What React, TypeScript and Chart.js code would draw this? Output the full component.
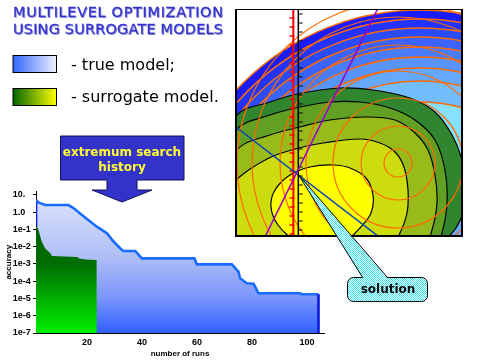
import React, { useEffect, useRef } from "react";
import { Chart, registerables } from "chart.js";
Chart.register(...registerables);

// ---------- history chart data ----------
const trueRuns = [1.5, 1.5, 2.5, 4.8, 13.3, 15.0, 19.0, 23.5, 27.3, 29.7, 32.7, 33.5, 37.6, 40.0, 59.1, 60.0, 72.7, 75.1, 75.7, 78.1, 80.6, 82.4, 97.6, 98.0, 104.2, 104.2];
const trueAcc = [1e-7, 5.1, 3.6, 2.6, 2.6, 1.8, 0.55, 0.15, 0.06, 0.02, 0.0065, 0.0056, 0.0056, 0.0021, 0.0021, 0.00095, 0.00095, 0.00036, 0.00015, 7.6e-5, 7.1e-5, 2.0e-5, 2.0e-5, 1.75e-5, 1.75e-5, 1e-7];
const surrRuns = [1.5, 1.5, 2.4, 3.6, 4.8, 6.7, 7.3, 16.5, 17.2, 19.5, 23.6, 23.6];
const surrAcc = [1e-7, 0.18, 0.093, 0.0195, 0.0081, 0.0042, 0.0029, 0.0025, 0.0021, 0.0018, 0.0017, 1e-7];
const yTicks = [10, 1, 1e-1, 1e-2, 1e-3, 1e-4, 1e-5, 1e-6, 1e-7];
const yTickLabels = ["10.", "1.0", "1e-1", "1e-2", "1e-3", "1e-4", "1e-5", "1e-6", "1e-7"];
const yRange = [1e-7, 15.85];
const xTicks = [20, 40, 60, 80, 100];

// ---------- contour picture data (picture units) ----------
const bandCenter = [183, 251];
const bandRadii = [251, 242, 233, 224, 214, 204, 193, 180, 159, 60];
const bandColors = ["#1a1aff", "#2233ff", "#2b4bff", "#3a63ff", "#4a7cff", "#5894ff", "#64a8ff", "#72bdff", "#86e0ff", "#66aaff"];
const ringCenter = [161, 153];
const ringRadii = [14, 37, 65, 92, 118, 146, 161];
const contourOuter = [[-37, 170], [0, 105], [33, 92], [60, 84], [103, 78], [136, 80], [173, 88], [198, 102], [215, 125], [225, 150], [229, 175], [227, 200], [219, 218], [209, 230], [188, 270], [93, 305], [-17, 262], [-37, 170]];
const contour2 = [[-22, 160], [0, 119], [33, 105], [63, 97], [93, 92], [123, 92], [153, 98], [178, 110], [198, 130], [208, 160], [210, 193], [205, 223], [193, 255], [100, 292], [-7, 250], [-22, 160]];
const contour3 = [[-17, 190], [0, 140], [33, 125], [63, 117], [93, 110], [129, 107], [158, 110], [178, 123], [191, 140], [198, 165], [200, 193], [195, 220], [183, 250], [100, 285], [-12, 245], [-17, 190]];
const contour4 = [[-25, 200], [-1, 170], [32, 148], [62, 138], [86, 133], [123, 129], [143, 133], [158, 142], [167, 157], [171, 180], [170, 203], [163, 223], [148, 250], [80, 275], [-15, 255], [-25, 200]];
const contourInner = [[85, 238], [58, 230], [41, 215], [34, 197], [38, 180], [53, 165], [73, 157], [96, 155], [113, 158], [129, 168], [136, 185], [134, 203], [123, 218], [108, 231], [85, 238]];
const contourColors = ["#2f862f", "#62a024", "#98ba1a", "#cddc0e", "#ffff00"];
const redRuler = [[56.3, -3], [56.3, 230]];
const blackRuler = [[61.3, -3], [61.3, 230]];
const rulerTicks = [4, 13, 22, 31, 40, 49, 58, 67, 76, 85, 94, 103, 112, 121, 130, 139, 148, 157, 166, 175, 184, 193, 202, 211, 220];
const purpleLine = [[24, 235], [144, -8]];
const blueLine = [[-5, 114], [150, 233]];

const pts = (a: number[][]) => a.map(([x, y]) => ({ x, y }));
const lg = (v: number) => Math.log10(v);
const tickFont = { family: "Liberation Sans", size: 9, weight: "bold" as const };
const titleFont = { family: "Liberation Sans", size: 8, weight: "bold" as const };

function blueGrad(c: any) {
  const chart = c.chart;
  const a = chart.chartArea;
  if (!a) return "rgba(0,0,0,0)";
  const g = chart.ctx.createLinearGradient(0, a.top, 0, a.bottom);
  g.addColorStop(0, "#e0e6f9");
  g.addColorStop(0.45, "#b0c0f6");
  g.addColorStop(0.75, "#7b96fc");
  g.addColorStop(1, "#3060ff");
  return g;
}
function greenGrad(c: any) {
  const chart = c.chart;
  const a = chart.chartArea;
  if (!a || !chart.scales.y) return "rgba(0,0,0,0)";
  const top = chart.scales.y.getPixelForValue(lg(0.1));
  const g = chart.ctx.createLinearGradient(0, top, 0, a.bottom);
  g.addColorStop(0, "#006000");
  g.addColorStop(0.35, "#007000");
  g.addColorStop(1, "#00f000");
  return g;
}

function labelFor(e: number) {
  let best = 0;
  for (let i = 1; i < yTicks.length; i++) {
    if (Math.abs(lg(yTicks[i]) - e) < Math.abs(lg(yTicks[best]) - e)) best = i;
  }
  return yTickLabels[best];
}

function mainConfig(): any {
  return {
    type: "line",
    data: {
      datasets: [
        {
          label: "surrogate model",
          data: surrRuns.map((x, i) => ({ x, y: lg(surrAcc[i]) })),
          borderWidth: 0,
          borderColor: "rgba(0,0,0,0)",
          pointRadius: 0,
          fill: "start",
          backgroundColor: greenGrad,
          order: 0,
        },
        {
          label: "true model",
          data: trueRuns.map((x, i) => ({ x, y: lg(trueAcc[i]) })),
          borderColor: "#1a6cff",
          borderWidth: 2.6,
          pointRadius: 0,
          fill: "start",
          backgroundColor: blueGrad,
          order: 1,
          segment: {
            borderColor: (ctx: any) => (ctx.p0.parsed.x === ctx.p1.parsed.x ? "#0a1ae0" : undefined),
          },
        },
      ],
    },
    options: {
      responsive: false,
      animation: false,
      events: [],
      layout: { autoPadding: false, padding: { left: 12.7, top: 5.5, right: 6, bottom: 0 } },
      plugins: { legend: { display: false }, tooltip: { enabled: false } },
      scales: {
        x: {
          type: "linear",
          min: 1.5,
          max: 106.2,
          afterBuildTicks: (s: any) => {
            s.ticks = xTicks.map((v) => ({ value: v }));
          },
          afterFit: (s: any) => {
            s.height = 27;
          },
          ticks: { font: tickFont, color: "#000", padding: 4, maxRotation: 0, autoSkip: false },
          grid: { display: false, drawTicks: false },
          border: { display: true, color: "#000", width: 1 },
          title: { display: true, text: "number of runs", font: titleFont, color: "#000", padding: { top: 0, bottom: 1 } },
        },
        y: {
          type: "linear",
          min: lg(yRange[0]),
          max: lg(yRange[1]),
          afterBuildTicks: (s: any) => {
            s.ticks = yTicks.map((v) => ({ value: lg(v) }));
          },
          afterFit: (s: any) => {
            s.width = 23.3;
          },
          ticks: {
            font: tickFont,
            color: "#000",
            padding: 0,
            crossAlign: "far",
            autoSkip: false,
            callback: (v: any) => labelFor(Number(v)),
          },
          grid: { display: true, drawOnChartArea: false, drawTicks: true, tickLength: 3, color: "#000" },
          border: { display: true, color: "#000", width: 1 },
          title: { display: true, text: "accuracy", font: titleFont, color: "#000", padding: { top: -8.5, bottom: 0 } },
        },
      },
    },
  };
}

function contourConfig(): any {
  const shape = (data: number[][], color: string, order: number) => ({
    type: "line",
    data: pts(data),
    fill: "shape",
    backgroundColor: color,
    borderColor: "#000",
    borderWidth: 1.2,
    tension: 0.35,
    pointRadius: 0,
    clip: 0,
    order,
  });
  return {
    type: "bubble",
    data: {
      datasets: [
        { type: "line", data: pts(purpleLine), borderColor: "#9900cc", borderWidth: 1.5, pointRadius: 0, fill: false, clip: 0, order: 0 },
        { type: "line", data: pts(blueLine), borderColor: "#0b45b5", borderWidth: 1.5, pointRadius: 0, fill: false, clip: 0, order: 0 },
        { type: "line", data: pts(blackRuler), borderColor: "#000", borderWidth: 1.5, pointRadius: 0, fill: false, clip: 0, order: 0 },
        {
          type: "line",
          data: rulerTicks.map((y) => ({ x: blackRuler[0][0] + 2.2, y })),
          showLine: false,
          pointStyle: "line",
          pointRadius: 2.2,
          pointBorderColor: "#000",
          pointBorderWidth: 1,
          clip: 0,
          order: 0,
        },
        { type: "line", data: pts(redRuler), borderColor: "#ff0000", borderWidth: 2, pointRadius: 0, fill: false, clip: 0, order: 0 },
        {
          type: "line",
          data: rulerTicks.map((y) => ({ x: redRuler[0][0] - 1.3, y: y + 4 })),
          showLine: false,
          pointStyle: "line",
          pointRadius: 2.5,
          pointBorderColor: "#ff0000",
          pointBorderWidth: 1.5,
          clip: 0,
          order: 0,
        },
        {
          type: "bubble",
          data: ringRadii.map((r) => ({ x: ringCenter[0], y: ringCenter[1], r })),
          backgroundColor: "rgba(0,0,0,0)",
          borderColor: "#ff6a00",
          borderWidth: 1.2,
          clip: 0,
          order: 1,
        },
        shape(contourInner, contourColors[4], 2),
        shape(contour4, contourColors[3], 3),
        shape(contour3, contourColors[2], 4),
        shape(contour2, contourColors[1], 5),
        shape(contourOuter, contourColors[0], 6),
        {
          type: "bubble",
          data: bandRadii.map((r) => ({ x: bandCenter[0], y: bandCenter[1], r })),
          backgroundColor: bandColors,
          borderColor: bandRadii.map((_r, i) => (i === bandRadii.length - 1 ? "rgba(0,0,0,0)" : "#ff6a00")),
          borderWidth: 1.5,
          clip: 0,
          order: 7,
        },
      ],
    },
    options: {
      responsive: false,
      animation: false,
      events: [],
      layout: { autoPadding: false, padding: 0 },
      elements: { line: { capBezierPoints: false }, point: { radius: 0 } },
      plugins: { legend: { display: false }, tooltip: { enabled: false } },
      scales: {
        x: { type: "linear", min: 0, max: 224, display: false },
        y: { type: "linear", min: 0, max: 225, reverse: true, display: false },
      },
    },
  };
}

export default function App() {
  const mainRef = useRef<HTMLCanvasElement>(null);
  const contourRef = useRef<HTMLCanvasElement>(null);
  useEffect(() => {
    const c1 = new Chart(mainRef.current as HTMLCanvasElement, mainConfig());
    const c2 = new Chart(contourRef.current as HTMLCanvasElement, contourConfig());
    return () => {
      c1.destroy();
      c2.destroy();
    };
  }, []);
  const dv = "DejaVu Sans";
  return (
    <div style={{ position: "fixed", left: 0, top: 0, width: 480, height: 360, background: "#fff", overflow: "hidden" }}>
      <canvas ref={mainRef} width={330} height={174} style={{ position: "absolute", left: 0, top: 186, width: 330, height: 174 }} />
      <canvas ref={contourRef} width={224} height={225} style={{ position: "absolute", left: 237, top: 10, width: 224, height: 225 }} />
      <div
        style={{
          position: "absolute",
          left: 235,
          top: 9,
          width: 228,
          height: 228,
          boxSizing: "border-box",
          borderStyle: "solid",
          borderColor: "#000",
          borderWidth: "1px 2px 2px 2px",
        }}
      />
      <svg width={480} height={360} style={{ position: "absolute", left: 0, top: 0, pointerEvents: "none" }}>
        <defs>
          <linearGradient id="gTrue" x1="0" y1="0" x2="1" y2="0">
            <stop offset="0" stopColor="#3366ff" />
            <stop offset="1" stopColor="#eef0ff" />
          </linearGradient>
          <linearGradient id="gSur" x1="0" y1="0" x2="1" y2="0">
            <stop offset="0" stopColor="#006600" />
            <stop offset="1" stopColor="#ffff00" />
          </linearGradient>
          <pattern id="cyan" width="2" height="2" patternUnits="userSpaceOnUse">
            <rect width="2" height="2" fill="#ffffff" />
            <rect width="1" height="1" fill="#33e6f0" />
            <rect x="1" y="1" width="1" height="1" fill="#33e6f0" />
          </pattern>
        </defs>
        <g fontFamily={dv} fontSize={14.5}>
          <text x={14} y={18} fill="#a0a0e0" textLength={210} lengthAdjust="spacing">MULTILEVEL OPTIMIZATION</text>
          <text x={13} y={17} fill="#3333cc" stroke="#3333cc" strokeWidth={0.3} textLength={210} lengthAdjust="spacing">MULTILEVEL OPTIMIZATION</text>
          <text x={14} y={35} fill="#a0a0e0" textLength={210} lengthAdjust="spacing">USING SURROGATE MODELS</text>
          <text x={13} y={34} fill="#3333cc" stroke="#3333cc" strokeWidth={0.3} textLength={210} lengthAdjust="spacing">USING SURROGATE MODELS</text>
        </g>
        <rect x={13} y={55.5} width={43.5} height={17} fill="url(#gTrue)" stroke="#000" strokeWidth={1} />
        <rect x={13} y={88.5} width={43.5} height={17} fill="url(#gSur)" stroke="#000" strokeWidth={1} />
        <text x={71} y={70} fontFamily={dv} fontSize={16} fill="#000">- true model;</text>
        <text x={71} y={101.5} fontFamily={dv} fontSize={16} fill="#000">- surrogate model.</text>
        <polygon
          points="60.5,136 184,136 184,180 137,180 137,190 152,190 122,202 92,190 107,190 107,180 60.5,180"
          fill="#3333cc"
          stroke="#111155"
          strokeWidth={1}
        />
        <text x={122} y={156} textAnchor="middle" fontFamily={dv} fontWeight="bold" fontSize={12} fill="#ffff33">extremum search</text>
        <text x={122} y={171} textAnchor="middle" fontFamily={dv} fontWeight="bold" fontSize={12} fill="#ffff33">history</text>
        <rect x={347.5} y={277.5} width={80} height={24} rx={6} fill="url(#cyan)" stroke="#000" strokeWidth={1} />
        <polygon points="298,174 363,279 388,279" fill="url(#cyan)" />
        <line x1={298} y1={174} x2={363} y2={278} stroke="#000" strokeWidth={1} />
        <line x1={298} y1={174} x2={388} y2={278} stroke="#000" strokeWidth={1} />
        <text x={388} y={293} textAnchor="middle" fontFamily={dv} fontWeight="bold" fontSize={12} fill="#000">solution</text>
      </svg>
    </div>
  );
}
